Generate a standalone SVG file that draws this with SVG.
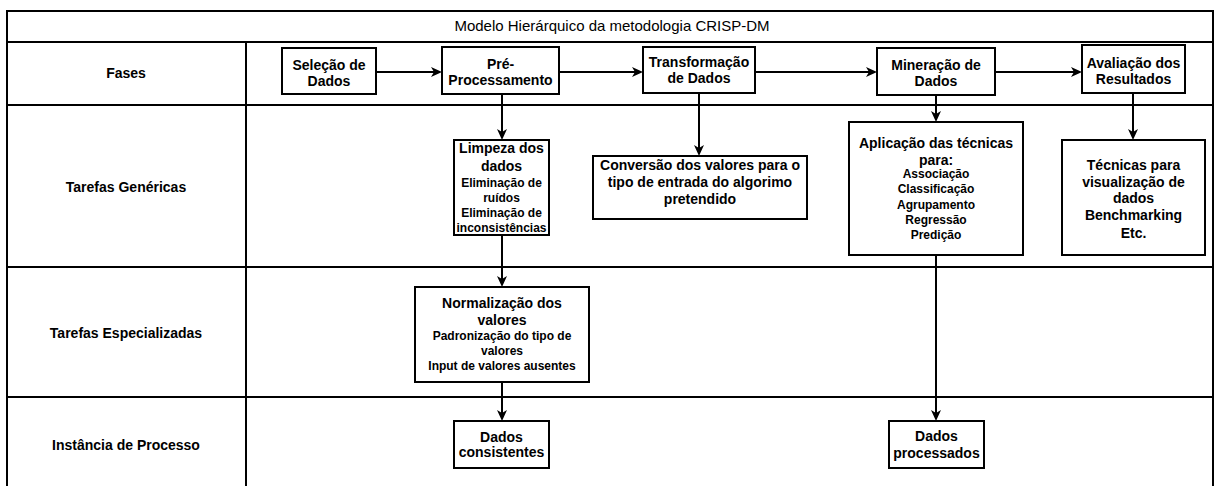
<svg xmlns="http://www.w3.org/2000/svg" width="1216" height="486" viewBox="0 0 1216 486">
<style>
  .frame { fill: none; stroke: #000; stroke-width: 2; }
  .box { fill: #fff; stroke: #000; stroke-width: 2; }
  .conn { fill: none; stroke: #000; stroke-width: 2; }
  text { font-family: "Liberation Sans", Arial, sans-serif; fill: #000; text-anchor: middle; }
  .t { font-size: 15px; }
  .lbl { font-size: 14px; font-weight: bold; }
  .n { font-size: 14px; font-weight: bold; }
  .s { font-size: 12px; font-weight: bold; }
</style>
<defs>
  <marker id="arr" markerUnits="userSpaceOnUse" markerWidth="12" markerHeight="10" refX="6" refY="5" orient="auto">
    <path d="M0,0 L11,5 L0,10 L3,5 Z" fill="#000"/>
  </marker>
</defs>
<rect width="1216" height="486" fill="#fff"/>

<g id="frame">
  <rect class="frame" x="7" y="11" width="1206" height="484"/>
  <line class="frame" x1="7" y1="42" x2="1213" y2="42"/>
  <line class="frame" x1="7" y1="105" x2="1213" y2="105"/>
  <line class="frame" x1="7" y1="267" x2="1213" y2="267"/>
  <line class="frame" x1="7" y1="397" x2="1213" y2="397"/>
  <line class="frame" x1="246" y1="42" x2="246" y2="495"/>
  <text class="t" x="612" y="31">Modelo Hierárquico da metodologia CRISP-DM</text>
  <text class="lbl" x="126" y="78">Fases</text>
  <text class="lbl" x="126" y="192">Tarefas Genéricas</text>
  <text class="lbl" x="126" y="338">Tarefas Especializadas</text>
  <text class="lbl" x="126" y="450">Instância de Processo</text>
</g>

<g id="connectors">
  <line class="conn" x1="376" y1="72" x2="437" y2="72" marker-end="url(#arr)"/>
  <line class="conn" x1="559" y1="72" x2="638" y2="72" marker-end="url(#arr)"/>
  <line class="conn" x1="755" y1="72" x2="872" y2="72" marker-end="url(#arr)"/>
  <line class="conn" x1="995" y1="72" x2="1077" y2="72" marker-end="url(#arr)"/>
  <line class="conn" x1="502" y1="94" x2="502" y2="135" marker-end="url(#arr)"/>
  <line class="conn" x1="699" y1="93" x2="699" y2="151" marker-end="url(#arr)"/>
  <line class="conn" x1="936" y1="95" x2="936" y2="117" marker-end="url(#arr)"/>
  <line class="conn" x1="1133" y1="93" x2="1133" y2="135" marker-end="url(#arr)"/>
  <line class="conn" x1="502" y1="235" x2="502" y2="282" marker-end="url(#arr)"/>
  <line class="conn" x1="502" y1="382" x2="502" y2="416" marker-end="url(#arr)"/>
  <line class="conn" x1="936" y1="255" x2="936" y2="416" marker-end="url(#arr)"/>
</g>

<g id="selecao">
  <rect class="box" x="282" y="48" width="94" height="46"/>
  <text class="n" x="329" y="70">Seleção de</text>
  <text class="n" x="329" y="86">Dados</text>
</g>
<g id="preprocessamento">
  <rect class="box" x="442" y="47" width="117" height="47"/>
  <text class="n" x="500.5" y="69">Pré-</text>
  <text class="n" x="500.5" y="85">Processamento</text>
</g>
<g id="transformacao">
  <rect class="box" x="643" y="47" width="112" height="46"/>
  <text class="n" x="699" y="67">Transformação</text>
  <text class="n" x="699" y="83">de Dados</text>
</g>
<g id="mineracao">
  <rect class="box" x="877" y="48" width="118" height="47"/>
  <text class="n" x="936" y="70">Mineração de</text>
  <text class="n" x="936" y="86">Dados</text>
</g>
<g id="avaliacao">
  <rect class="box" x="1082" y="45" width="103" height="48"/>
  <text class="n" x="1133.5" y="68">Avaliação dos</text>
  <text class="n" x="1133.5" y="84">Resultados</text>
</g>

<g id="limpeza">
  <rect class="box" x="454" y="140" width="95" height="95"/>
  <text class="n" x="501.5" y="153">Limpeza dos</text>
  <text class="n" x="501.5" y="171">dados</text>
  <text class="s" x="501.5" y="187">Eliminação de</text>
  <text class="s" x="501.5" y="202">ruídos</text>
  <text class="s" x="501.5" y="217">Eliminação de</text>
  <text class="s" x="501.5" y="232">inconsistências</text>
</g>
<g id="conversao">
  <rect class="box" x="593" y="156" width="214" height="63"/>
  <text class="n" x="700" y="170">Conversão dos valores para o</text>
  <text class="n" x="700" y="187">tipo de entrada do algorimo</text>
  <text class="n" x="700" y="204">pretendido</text>
</g>
<g id="aplicacao">
  <rect class="box" x="849" y="122" width="174" height="133"/>
  <text class="n" x="936" y="148">Aplicação das técnicas</text>
  <text class="n" x="936" y="165">para:</text>
  <text class="s" x="936" y="178">Associação</text>
  <text class="s" x="936" y="193">Classificação</text>
  <text class="s" x="936" y="209">Agrupamento</text>
  <text class="s" x="936" y="224">Regressão</text>
  <text class="s" x="936" y="239">Predição</text>
</g>
<g id="tecnicas">
  <rect class="box" x="1062" y="140" width="143" height="115"/>
  <text class="n" x="1133.5" y="170">Técnicas para</text>
  <text class="n" x="1133.5" y="187">visualização de</text>
  <text class="n" x="1133.5" y="203">dados</text>
  <text class="n" x="1133.5" y="220">Benchmarking</text>
  <text class="n" x="1133.5" y="238">Etc.</text>
</g>

<g id="normalizacao">
  <rect class="box" x="415" y="287" width="174" height="95"/>
  <text class="n" x="502" y="308">Normalização dos</text>
  <text class="n" x="502" y="325">valores</text>
  <text class="s" x="502" y="340">Padronização do tipo de</text>
  <text class="s" x="502" y="355">valores</text>
  <text class="s" x="502" y="370">Input de valores ausentes</text>
</g>

<g id="dados-consistentes">
  <rect class="box" x="454" y="421" width="95" height="47"/>
  <text class="n" x="501.5" y="442">Dados</text>
  <text class="n" x="501.5" y="457">consistentes</text>
</g>
<g id="dados-processados">
  <rect class="box" x="889" y="421" width="95" height="47"/>
  <text class="n" x="936.5" y="441">Dados</text>
  <text class="n" x="936.5" y="458">processados</text>
</g>
</svg>
